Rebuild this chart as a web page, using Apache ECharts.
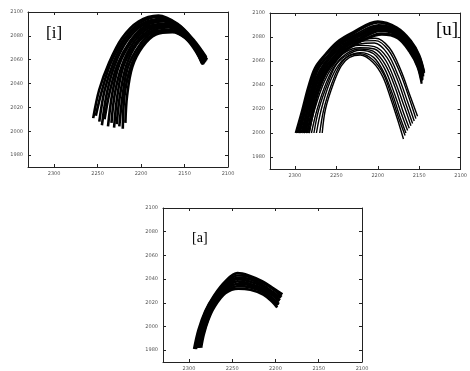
<!DOCTYPE html>
<html>
<head>
<meta charset="utf-8">
<script src="https://cdn.jsdelivr.net/npm/echarts@6/dist/echarts.min.js"></script>
<style>html,body{margin:0;padding:0;background:#fff}#c{width:470px;height:371px}</style>
</head>
<body>
<div id="c"></div>
<script>
// Tick labels
const xTicks = [2300, 2250, 2200, 2150, 2100];
const yTicks = [1980, 2000, 2020, 2040, 2060, 2080, 2100];
const panelLabels = ['[i]', '[u]', '[a]'];

// Panel [i] trajectories: [x, y] pairs
const curvesI = [
  [[2255,2011],[2248,2035],[2237,2057],[2222,2078],[2203,2092],[2180,2097],[2158,2090],[2140,2077],[2125,2062]],
  [[2252,2013],[2245,2034],[2235,2057],[2220,2077],[2201,2091],[2179,2096],[2157,2089],[2140,2076],[2124,2060]],
  [[2248,2008],[2242,2034],[2232,2057],[2218,2077],[2199,2090],[2177,2094],[2156,2088],[2140,2075],[2126,2061]],
  [[2245,2005],[2239,2033],[2230,2056],[2216,2076],[2198,2089],[2176,2093],[2156,2087],[2140,2075],[2125,2059]],
  [[2242,2010],[2236,2033],[2227,2056],[2213,2075],[2196,2088],[2174,2092],[2155,2086],[2139,2074],[2127,2060]],
  [[2238,2004],[2233,2032],[2225,2056],[2211,2075],[2194,2087],[2173,2090],[2154,2085],[2139,2073],[2126,2058]],
  [[2234,2007],[2230,2032],[2222,2055],[2209,2074],[2192,2086],[2171,2089],[2153,2083],[2139,2072],[2128,2059]],
  [[2231,2003],[2227,2031],[2220,2055],[2207,2073],[2190,2085],[2170,2088],[2152,2082],[2139,2071],[2127,2057]],
  [[2228,2006],[2224,2031],[2217,2055],[2205,2073],[2188,2084],[2168,2087],[2151,2081],[2138,2071],[2129,2058]],
  [[2225,2004],[2221,2031],[2215,2054],[2202,2072],[2187,2083],[2167,2085],[2151,2080],[2138,2070],[2128,2056]],
  [[2221,2002],[2219,2030],[2212,2054],[2200,2071],[2185,2082],[2165,2084],[2150,2079],[2138,2069],[2130,2057]],
  [[2218,2007],[2216,2030],[2210,2054],[2198,2071],[2183,2081],[2164,2083],[2149,2078],[2138,2068],[2129,2056]]
];

// Panel [u] upper band trajectories
const curvesUUpper = [
  [[2299,2000],[2292,2017],[2284,2038],[2276,2054],[2264,2065],[2249,2076],[2230,2084],[2200,2093],[2177,2088],[2160,2077],[2150,2065],[2144,2051]],
  [[2297,2000],[2290,2017],[2283,2038],[2274,2054],[2263,2065],[2248,2075],[2229,2083],[2200,2092],[2177,2087],[2160,2076],[2150,2064],[2144,2050]],
  [[2295,2000],[2289,2017],[2282,2037],[2273,2053],[2261,2064],[2247,2074],[2227,2082],[2199,2090],[2177,2086],[2161,2075],[2151,2063],[2145,2049]],
  [[2294,2000],[2288,2017],[2280,2037],[2272,2053],[2260,2064],[2245,2074],[2226,2081],[2198,2089],[2177,2085],[2161,2074],[2151,2062],[2145,2048]],
  [[2292,2000],[2286,2017],[2279,2037],[2270,2052],[2259,2063],[2244,2073],[2225,2080],[2198,2088],[2177,2084],[2161,2073],[2151,2061],[2145,2047]],
  [[2290,2000],[2285,2017],[2277,2037],[2268,2052],[2257,2063],[2243,2072],[2224,2080],[2197,2087],[2176,2083],[2161,2072],[2151,2060],[2146,2046]],
  [[2289,2000],[2283,2017],[2276,2036],[2267,2051],[2255,2062],[2241,2072],[2222,2079],[2197,2086],[2176,2082],[2162,2071],[2152,2059],[2146,2045]],
  [[2287,2000],[2282,2017],[2274,2036],[2265,2051],[2254,2062],[2240,2071],[2221,2078],[2196,2085],[2176,2081],[2162,2070],[2152,2058],[2146,2044]],
  [[2285,2000],[2280,2017],[2273,2036],[2264,2050],[2252,2061],[2238,2070],[2219,2077],[2196,2083],[2176,2080],[2162,2069],[2152,2056],[2147,2043]],
  [[2283,2000],[2278,2017],[2271,2036],[2262,2050],[2250,2061],[2236,2070],[2218,2077],[2195,2082],[2176,2079],[2162,2068],[2152,2055],[2147,2041]]
];

// Panel [u] lower fan trajectories
const curvesULower = [
  [[2295,2000],[2287,2020],[2275,2042],[2261,2059],[2244,2071],[2224,2077],[2203,2079],[2186,2071],[2172,2052],[2161,2031],[2152,2014]],
  [[2292,2000],[2284,2020],[2273,2042],[2259,2059],[2243,2070],[2224,2076],[2203,2077],[2187,2069],[2173,2050],[2162,2029],[2154,2012]],
  [[2289,2000],[2281,2020],[2270,2042],[2257,2058],[2242,2069],[2223,2074],[2204,2075],[2188,2066],[2175,2047],[2164,2026],[2156,2010]],
  [[2286,2000],[2278,2020],[2267,2042],[2255,2058],[2241,2068],[2223,2073],[2204,2072],[2189,2063],[2176,2044],[2166,2024],[2158,2008]],
  [[2283,2000],[2276,2020],[2265,2042],[2253,2057],[2240,2067],[2222,2071],[2204,2070],[2190,2060],[2178,2041],[2168,2022],[2160,2006]],
  [[2280,2000],[2273,2020],[2262,2042],[2251,2057],[2238,2066],[2222,2070],[2205,2068],[2191,2057],[2179,2038],[2170,2019],[2162,2004]],
  [[2277,2000],[2271,2020],[2260,2042],[2250,2057],[2237,2065],[2222,2069],[2205,2066],[2192,2054],[2181,2035],[2172,2017],[2164,2002]],
  [[2274,2000],[2268,2020],[2258,2042],[2248,2056],[2236,2064],[2221,2067],[2205,2063],[2193,2051],[2182,2032],[2174,2015],[2166,2000]],
  [[2270,2000],[2265,2020],[2255,2042],[2246,2056],[2235,2064],[2221,2066],[2206,2061],[2193,2049],[2183,2030],[2175,2013],[2167,1998]],
  [[2267,2000],[2263,2020],[2253,2042],[2244,2056],[2234,2063],[2221,2065],[2206,2059],[2194,2047],[2184,2028],[2176,2011],[2169,1995]]
];

// Panel [a] trajectories
const curvesA = [
  [[2294,1981],[2289,1997],[2281,2013],[2271,2026],[2258,2038],[2244,2045],[2231,2043],[2215,2038],[2202,2032],[2192,2027]],
  [[2293,1981],[2288,1996],[2281,2012],[2271,2025],[2258,2036],[2244,2043],[2231,2042],[2215,2037],[2202,2031],[2193,2025]],
  [[2292,1981],[2287,1995],[2280,2011],[2271,2023],[2258,2035],[2244,2041],[2230,2040],[2215,2035],[2203,2029],[2194,2024]],
  [[2291,1982],[2287,1995],[2280,2010],[2271,2022],[2258,2033],[2244,2040],[2230,2038],[2215,2034],[2203,2028],[2195,2022]],
  [[2290,1982],[2286,1994],[2279,2008],[2271,2021],[2258,2032],[2244,2038],[2230,2036],[2215,2032],[2203,2026],[2196,2021]],
  [[2289,1982],[2285,1994],[2279,2007],[2271,2019],[2258,2031],[2243,2036],[2230,2035],[2214,2030],[2204,2024],[2196,2019]],
  [[2288,1982],[2284,1993],[2278,2006],[2271,2018],[2258,2029],[2243,2034],[2229,2033],[2214,2029],[2204,2023],[2197,2018]],
  [[2286,1982],[2283,1993],[2278,2005],[2271,2016],[2258,2028],[2243,2032],[2229,2031],[2214,2027],[2204,2021],[2198,2016]]
];

const grids = [
  {left: 28, top: 12, width: 200, height: 155},
  {left: 270, top: 13, width: 197, height: 156},
  {left: 163, top: 208, width: 199, height: 157}
];

const lineCol = '#222';
const plain = v => String(v);
const xAxes = [], yAxes = [];
grids.forEach((g, i) => {
  const common = {
    gridIndex: i, type: 'value', min: 2100, max: 2330, inverse: true,
    axisLine: {show: true, onZero: false, lineStyle: {color: lineCol, width: 1}},
    splitLine: {show: false}
  };
  xAxes.push(Object.assign({}, common, {
    position: 'bottom',
    axisTick: {show: true, inside: true, length: 3, customValues: xTicks, lineStyle: {color: lineCol}},
    axisLabel: {show: true, customValues: xTicks, formatter: plain, fontSize: 5, color: '#555', margin: 4, fontFamily: 'DejaVu Sans'}
  }));
  xAxes.push(Object.assign({}, common, {
    position: 'top',
    axisTick: {show: true, inside: true, length: 3, customValues: xTicks, lineStyle: {color: lineCol}},
    axisLabel: {show: false}
  }));
  const ycommon = {
    gridIndex: i, type: 'value', min: 1970, max: 2100,
    axisLine: {show: true, onZero: false, lineStyle: {color: lineCol, width: 1}},
    splitLine: {show: false}
  };
  yAxes.push(Object.assign({}, ycommon, {
    position: 'left',
    axisTick: {show: true, inside: true, length: 3, customValues: yTicks, lineStyle: {color: lineCol}},
    axisLabel: {show: true, customValues: yTicks, formatter: plain, fontSize: 5, color: '#555', margin: 5, fontFamily: 'DejaVu Sans'}
  }));
  yAxes.push(Object.assign({}, ycommon, {
    position: 'right',
    axisTick: {show: true, inside: true, length: 3, customValues: yTicks, lineStyle: {color: lineCol}},
    axisLabel: {show: false}
  }));
});

const series = [];
function addCurves(curves, gi, width) {
  curves.forEach(c => {
    series.push({
      type: 'line', xAxisIndex: gi * 2, yAxisIndex: gi * 2, data: c,
      smooth: 0.35, showSymbol: false, symbol: 'none', silent: true,
      lineStyle: {color: '#000', width: width}
    });
  });
}
addCurves(curvesI, 0, 2.6);
addCurves(curvesUUpper, 1, 2.2);
addCurves(curvesULower, 1, 1.4);
addCurves(curvesA, 2, 2.7);

const chart = echarts.init(document.getElementById('c'), null, {renderer: 'canvas'});
chart.setOption({
  animation: false,
  backgroundColor: '#fff',
  grid: grids,
  xAxis: xAxes,
  yAxis: yAxes,
  series: series,
  graphic: [
    {type: 'text', left: 46, top: 25, style: {text: panelLabels[0], font: '17px "Liberation Serif"', fill: '#000'}},
    {type: 'text', left: 436, top: 21, style: {text: panelLabels[1], font: '19px "Liberation Serif"', fill: '#000'}},
    {type: 'text', left: 192, top: 231, style: {text: panelLabels[2], font: '14px "Liberation Serif"', fill: '#000'}}
  ]
});
</script>
</body>
</html>
